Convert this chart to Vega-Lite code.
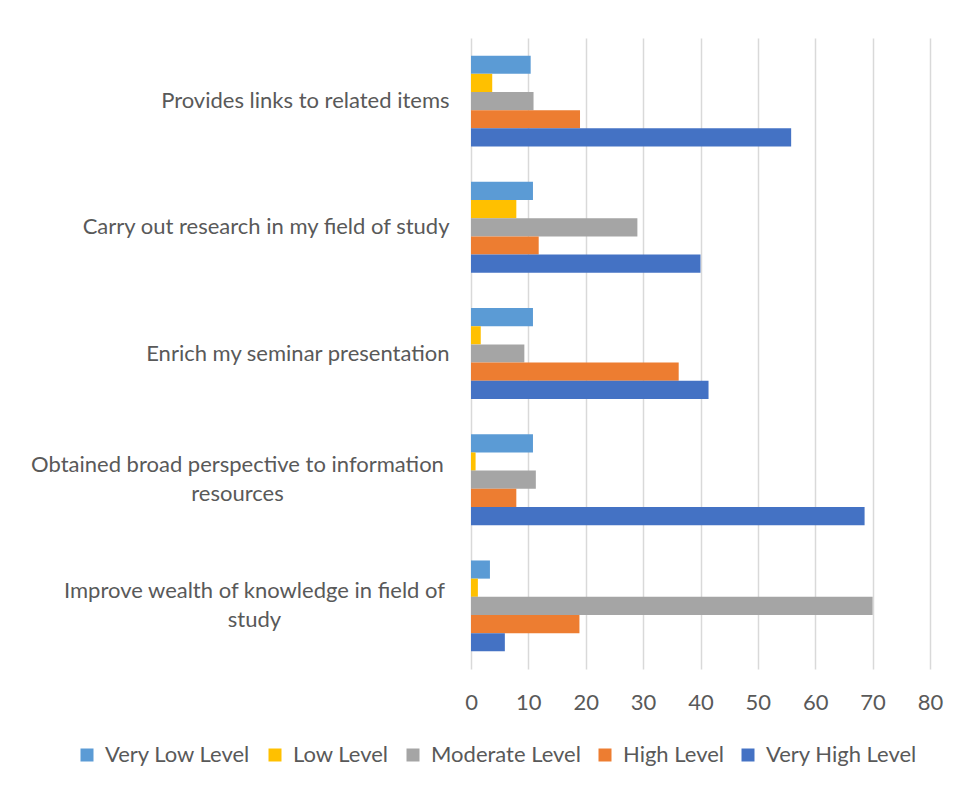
{
  "$schema": "https://vega.github.io/schema/vega-lite/v6.json",
  "autosize": {"type": "none"},
  "width": 459,
  "height": 631,
  "padding": {"left": 471, "top": 38, "right": 30, "bottom": 120},
  "background": "white",
  "data": {
    "values": [
      {"item": "Provides links to related items", "level": "Very Low Level", "value": 10.4},
      {"item": "Provides links to related items", "level": "Low Level", "value": 3.7},
      {"item": "Provides links to related items", "level": "Moderate Level", "value": 10.9},
      {"item": "Provides links to related items", "level": "High Level", "value": 19.0},
      {"item": "Provides links to related items", "level": "Very High Level", "value": 55.8},
      {"item": "Carry out research in my field of study", "level": "Very Low Level", "value": 10.8},
      {"item": "Carry out research in my field of study", "level": "Low Level", "value": 7.9},
      {"item": "Carry out research in my field of study", "level": "Moderate Level", "value": 29.0},
      {"item": "Carry out research in my field of study", "level": "High Level", "value": 11.8},
      {"item": "Carry out research in my field of study", "level": "Very High Level", "value": 40.0},
      {"item": "Enrich my seminar presentation", "level": "Very Low Level", "value": 10.8},
      {"item": "Enrich my seminar presentation", "level": "Low Level", "value": 1.7},
      {"item": "Enrich my seminar presentation", "level": "Moderate Level", "value": 9.3},
      {"item": "Enrich my seminar presentation", "level": "High Level", "value": 36.2},
      {"item": "Enrich my seminar presentation", "level": "Very High Level", "value": 41.4},
      {"item": "Obtained broad perspective to information resources", "level": "Very Low Level", "value": 10.8},
      {"item": "Obtained broad perspective to information resources", "level": "Low Level", "value": 0.8},
      {"item": "Obtained broad perspective to information resources", "level": "Moderate Level", "value": 11.3},
      {"item": "Obtained broad perspective to information resources", "level": "High Level", "value": 7.9},
      {"item": "Obtained broad perspective to information resources", "level": "Very High Level", "value": 68.6},
      {"item": "Improve wealth of knowledge in field of study", "level": "Very Low Level", "value": 3.3},
      {"item": "Improve wealth of knowledge in field of study", "level": "Low Level", "value": 1.2},
      {"item": "Improve wealth of knowledge in field of study", "level": "Moderate Level", "value": 70.0},
      {"item": "Improve wealth of knowledge in field of study", "level": "High Level", "value": 18.9},
      {"item": "Improve wealth of knowledge in field of study", "level": "Very High Level", "value": 5.9}
    ]
  },
  "mark": {"type": "bar"},
  "encoding": {
    "y": {
      "field": "item",
      "type": "nominal",
      "sort": ["Provides links to related items", "Carry out research in my field of study", "Enrich my seminar presentation", "Obtained broad perspective to information resources", "Improve wealth of knowledge in field of study"],
      "scale": {"paddingInner": 0.28, "paddingOuter": 0.14},
      "axis": {
        "title": null,
        "domain": false,
        "ticks": false,
        "labelLimit": 0,
        "labelFont": "Lato",
        "labelFontSize": 22,
        "labelColor": "#595959",
        "labelLineHeight": 29,
        "labelExpr": "datum.label == 'Obtained broad perspective to information resources' ? ['Obtained broad perspective to information', 'resources'] : datum.label == 'Improve wealth of knowledge in field of study' ? ['Improve wealth of knowledge in field of', 'study'] : datum.label",
        "labelAlign": {"condition": {"test": "length(datum.label) > 42", "value": "center"}, "value": "right"},
        "labelOffset": {"condition": {"test": "length(datum.label) > 42", "value": -14.5}, "value": 0},
        "labelPadding": {"condition": [
          {"test": "datum.label == 'Obtained broad perspective to information resources'", "value": 234},
          {"test": "datum.label == 'Improve wealth of knowledge in field of study'", "value": 217}
        ], "value": 22}
      }
    },
    "yOffset": {
      "field": "level",
      "type": "nominal",
      "sort": ["Very Low Level", "Low Level", "Moderate Level", "High Level", "Very High Level"],
      "scale": {"paddingInner": 0, "paddingOuter": 0}
    },
    "x": {
      "field": "value",
      "type": "quantitative",
      "scale": {"domain": [0, 80], "nice": false},
      "axis": {
        "title": null,
        "values": [0, 10, 20, 30, 40, 50, 60, 70, 80],
        "domain": false,
        "ticks": false,
        "grid": true,
        "gridColor": "#d9d9d9",
        "gridWidth": 1.5,
        "labelFlush": false,
        "labelFont": "Lato",
        "labelFontSize": 22,
        "labelColor": "#595959",
        "labelPadding": 23
      }
    },
    "color": {
      "field": "level",
      "type": "nominal",
      "sort": ["Very Low Level", "Low Level", "Moderate Level", "High Level", "Very High Level"],
      "scale": {
        "domain": ["Very Low Level", "Low Level", "Moderate Level", "High Level", "Very High Level"],
        "range": ["#5B9BD5", "#FFC000", "#A5A5A5", "#ED7D31", "#4472C4"]
      },
      "legend": {
        "title": null,
        "orient": "none",
        "direction": "horizontal",
        "legendX": -395,
        "legendY": 706,
        "symbolType": "square",
        "symbolSize": 169,
        "symbolStrokeWidth": 0,
        "labelFont": "Lato",
        "labelFontSize": 22,
        "labelColor": "#595959",
        "labelOffset": 7,
        "columnPadding": 13,
        "labelLimit": 0
      }
    }
  },
  "config": {"view": {"stroke": null}}
}
